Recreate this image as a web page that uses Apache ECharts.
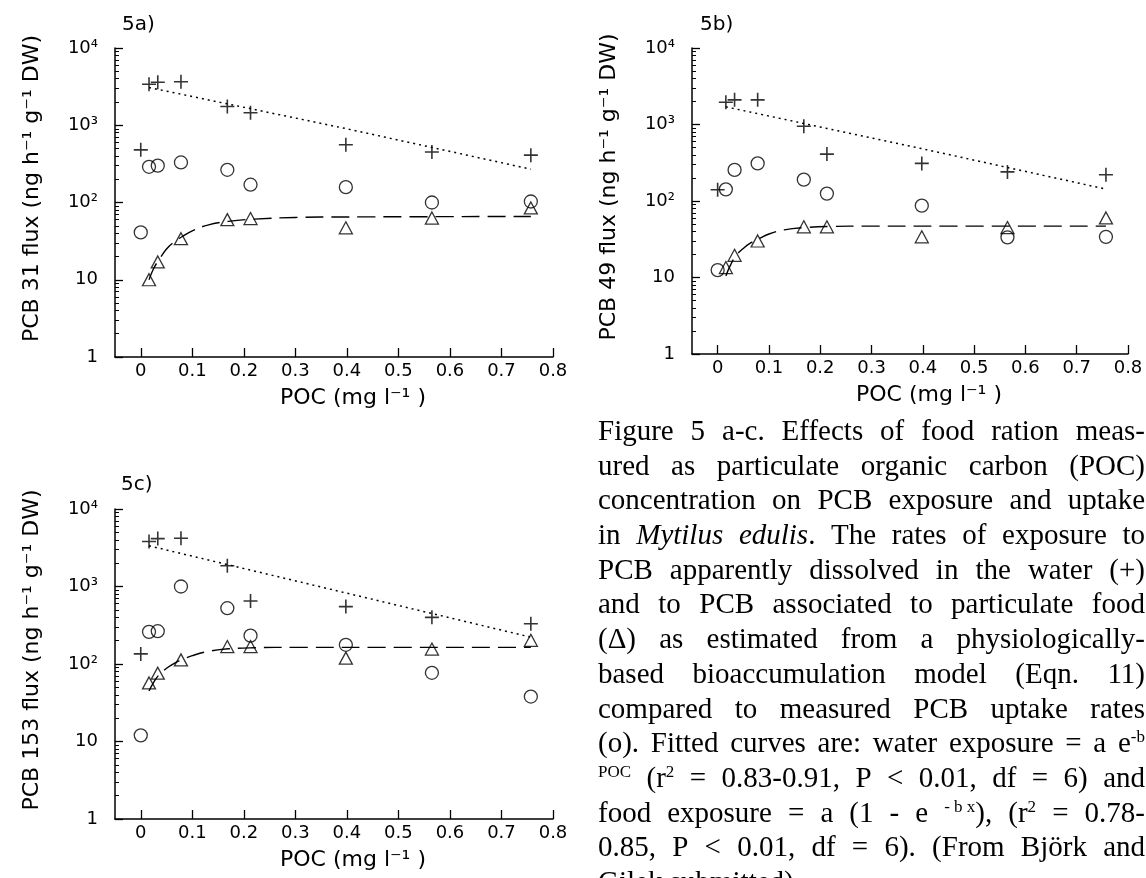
<!DOCTYPE html>
<html>
<head>
<meta charset="utf-8">
<script src="https://cdn.jsdelivr.net/npm/echarts@6/dist/echarts.min.js"></script>
<style>
html,body{margin:0;padding:0;background:#fff;}
#chart{width:1146px;height:878px;}
</style>
</head>
<body>
<div id="chart"></div>
<script>
// ---------------- data ----------------
const poc = [0, 0.016, 0.033, 0.078, 0.168, 0.213, 0.398, 0.565, 0.757];

const panelLabels = ['5a)', '5b)', '5c)'];
const yNames = ['PCB 31 flux (ng h\u207B\u00B9 g\u207B\u00B9 DW)',
                'PCB 49 flux (ng h\u207B\u00B9 g\u207B\u00B9 DW)',
                'PCB 153 flux (ng h\u207B\u00B9 g\u207B\u00B9 DW)'];
const xName = 'POC (mg l\u207B\u00B9 )';

// water exposure (+)
const waterA = [480, 3400, 3600, 3650, 1750, 1450, 560, 450, 410];
const waterB = [140, 1950, 2100, 2100, 950, 410, 310, 240, 220];
const waterC = [135, 3800, 4150, 4200, 1850, 650, 550, 400, 330];
// measured uptake (o)
const uptakeA = [41, 290, 300, 330, 265, 170, 158, 100, 103];
const uptakeB = [12.5, 142, 255, 310, 190, 125, 87, 33.5, 34];
const uptakeC = [12, 260, 265, 1000, 525, 232, 177, 77, 38];
// food exposure (triangle)
const foodA = [null, 10, 17, 34, 60, 62, 47, 63, 85];
const foodB = [null, 13.5, 19.5, 30, 46, 46, 34, 45, 60];
const foodC = [null, 57, 76, 113, 168, 168, 119, 156, 202];

// fitted water-exposure curves (dotted)
const waterFitX = [0.016, 0.4, 0.757];
const waterFitA = [3080, 900, 270];
const waterFitB = [1700, 480, 143];
const waterFitC = [3350, 820, 222];

// fitted food-exposure curves (dashed)
const foodFitX = [0.016, 0.025, 0.035, 0.05, 0.065, 0.08, 0.1, 0.13, 0.17, 0.22, 0.3, 0.4, 0.757];
const foodFitA = [10, 14, 18, 25, 31, 36, 43, 51, 57, 61, 64, 65, 66];
const foodFitB = [10.5, 14.5, 19, 24, 28.5, 32, 37, 42, 45, 46.5, 47, 47, 47];
const foodFitC = [45, 58, 72, 88, 102, 114, 128, 145, 157, 162, 164, 164, 164];

// axis ticks
const xTicks = [0, 0.1, 0.2, 0.3, 0.4, 0.5, 0.6, 0.7, 0.8];
const yMajor = [1, 10, 100, 1000, 10000];
const yMajorLabels = ['1', '10', '10\u00B2', '10\u00B3', '10\u2074'];
const yMinor = [2,3,4,5,6,7,8,9,20,30,40,50,60,70,80,90,200,300,400,500,600,700,800,900,2000,3000,4000,5000,6000,7000,8000,9000];

// caption ( *italic*, ^superscript^, ~ = space inside a word )
const captionLines = [
  'Figure 5 a-c. Effects of food ration meas-',
  'ured as particulate organic carbon (POC)',
  'concentration on PCB exposure and uptake',
  'in *Mytilus* *edulis*. The rates of exposure to',
  'PCB apparently dissolved in the water (+)',
  'and to PCB associated to particulate food',
  '(\u0394) as estimated from a physiologically-',
  'based bioaccumulation model (Eqn. 11)',
  'compared to measured PCB uptake rates',
  '(o). Fitted curves are: water exposure = a e^-b^',
  '^POC^ (r^2^ = 0.83-0.91, P < 0.01, df = 6) and',
  'food exposure = a (1 - e ^-~b~x^), (r^2^ = 0.78-',
  '0.85, P < 0.01, df = 6). (From Bj\u00F6rk and',
  'Gilek submitted).'
];

// ---------------- layout / style ----------------
const grids = [
  {left: 115, top: 48, width: 438, height: 309},
  {left: 692, top: 48, width: 436, height: 306},
  {left: 115, top: 509, width: 438, height: 310}
];
const labelPos = [[122, 24.5], [700, 24.5], [121, 485]];
const SANS = 'DejaVu Sans';
const SERIF = 'Liberation Serif';

const waters = [waterA, waterB, waterC];
const uptakes = [uptakeA, uptakeB, uptakeC];
const foods = [foodA, foodB, foodC];
const waterFits = [waterFitA, waterFitB, waterFitC];
const foodFits = [foodFitA, foodFitB, foodFitC];

function zip(xs, ys) {
  const out = [];
  xs.forEach((x, i) => { if (ys[i] != null) out.push([x, ys[i]]); });
  return out;
}

const option = {
  animation: false,
  backgroundColor: '#fff',
  grid: grids.map(g => Object.assign({outerBoundsMode: 'none', containLabel: false}, g)),
  xAxis: [],
  yAxis: [],
  series: [],
  graphic: []
};

for (let i = 0; i < 3; i++) {
  option.xAxis.push({
    type: 'value', gridIndex: i, min: -0.05, max: 0.8,
    axisLine: {onZero: false, lineStyle: {color: '#000', width: 1.5}},
    axisTick: {inside: true, length: 9, customValues: xTicks, lineStyle: {color: '#000', width: 1.3}},
    axisLabel: {customValues: xTicks, margin: 5, color: '#000', fontSize: 18, fontFamily: SANS,
      formatter: v => (Math.abs(v) < 1e-9 ? '0' : v.toFixed(1))},
    splitLine: {show: false},
    name: xName, nameLocation: 'middle', nameGap: 30,
    nameTextStyle: {color: '#000', fontSize: 22, fontFamily: SANS, padding: [0, 0, 0, 38]}
  });
  option.yAxis.push({
    type: 'log', logBase: 10, gridIndex: i, min: 1, max: 10000, position: 'left',
    axisLine: {show: true, onZero: false, lineStyle: {color: '#000', width: 1.5}},
    axisTick: {inside: true, length: 8, customValues: yMajor, lineStyle: {color: '#000', width: 1.3}},
    axisLabel: {customValues: yMajor, margin: 17, color: '#000', fontSize: 18, fontFamily: SANS,
      formatter: v => yMajorLabels[Math.round(Math.log10(v))]},
    splitLine: {show: false},
    name: yNames[i], nameLocation: 'middle', nameGap: 72,
    nameTextStyle: {color: '#000', fontSize: 22, fontFamily: SANS, padding: [0, 0, 0, 28]}
  });
  option.yAxis.push({
    type: 'log', logBase: 10, gridIndex: i, min: 1, max: 10000, position: 'left', offset: 0,
    axisLine: {show: false, onZero: false},
    axisTick: {inside: true, length: 4, customValues: yMinor, lineStyle: {color: '#000', width: 1}},
    axisLabel: {show: false},
    splitLine: {show: false}
  });

  const yi = 2 * i;
  option.series.push({
    type: 'line', xAxisIndex: i, yAxisIndex: yi, data: zip(waterFitX, waterFits[i]),
    symbol: 'none', silent: true, z: 2,
    lineStyle: {color: '#000', width: 1.5, type: [2, 4]}
  });
  option.series.push({
    type: 'line', xAxisIndex: i, yAxisIndex: yi, data: zip(foodFitX, foodFits[i]),
    symbol: 'none', smooth: 0.4, silent: true, z: 2,
    lineStyle: {color: '#000', width: 1.4, type: [18, 8]}
  });
  option.series.push({
    type: 'scatter', xAxisIndex: i, yAxisIndex: yi, data: zip(poc, waters[i]),
    symbol: 'path://M0,6L12,6M6,0L6,12', symbolSize: 14, silent: true, z: 3,
    itemStyle: {color: 'transparent', borderColor: '#000', borderWidth: 1.6}
  });
  option.series.push({
    type: 'scatter', xAxisIndex: i, yAxisIndex: yi, data: zip(poc, uptakes[i]),
    symbol: 'circle', symbolSize: 13, silent: true, z: 3,
    itemStyle: {color: 'transparent', borderColor: '#000', borderWidth: 1.3}
  });
  option.series.push({
    type: 'scatter', xAxisIndex: i, yAxisIndex: yi, data: zip(poc, foods[i]),
    symbol: 'triangle', symbolSize: [13, 12], silent: true, z: 3,
    itemStyle: {color: 'transparent', borderColor: '#000', borderWidth: 1.3}
  });

  option.graphic.push({
    type: 'text', x: labelPos[i][0], y: labelPos[i][1], silent: true,
    style: {text: panelLabels[i], fontSize: 20, fontFamily: SANS, fill: '#000', align: 'left', verticalAlign: 'middle'}
  });
}

// ---------------- caption (justified) ----------------
const FS = 29, SUP = 17;
const measCtx = document.createElement('canvas').getContext('2d');
function fontOf(m) {
  if (m === 'i') return 'italic ' + FS + 'px "' + SERIF + '"';
  if (m === 's') return SUP + 'px "' + SERIF + '"';
  return FS + 'px "' + SERIF + '"';
}
function textWidth(t, m) { measCtx.font = fontOf(m); return measCtx.measureText(t).width; }
function parseWord(w) {
  const runs = []; let mode = 'n'; let buf = '';
  for (const ch of w) {
    if (ch === '*') { if (buf) { runs.push({t: buf, m: mode}); buf = ''; } mode = (mode === 'i') ? 'n' : 'i'; continue; }
    if (ch === '^') { if (buf) { runs.push({t: buf, m: mode}); buf = ''; } mode = (mode === 's') ? 'n' : 's'; continue; }
    buf += (ch === '~') ? ' ' : ch;
  }
  if (buf) runs.push({t: buf, m: mode});
  return runs;
}
const capX0 = 598, capX1 = 1145, capBase0 = 441, capLH = 34.7;
captionLines.forEach((line, k) => {
  const words = line.split(' ').map(parseWord);
  const widths = words.map(rs => rs.reduce((s, r) => s + textWidth(r.t, r.m), 0));
  const total = widths.reduce((a, b) => a + b, 0);
  const justify = k < captionLines.length - 1 && words.length > 1;
  const gap = justify ? (capX1 - capX0 - total) / (words.length - 1) : textWidth(' ', 'n');
  const base = capBase0 + k * capLH;
  let x = capX0;
  words.forEach((rs, wi) => {
    rs.forEach(r => {
      const w = textWidth(r.t, r.m);
      const isSup = r.m === 's';
      option.graphic.push({
        type: 'text', x: x, y: isSup ? base - 0.36 * FS - 0.3 * SUP : base - 0.3 * FS, silent: true,
        style: {text: r.t, fontSize: isSup ? SUP : FS, fontFamily: SERIF,
          fontStyle: r.m === 'i' ? 'italic' : 'normal', fill: '#000', align: 'left', verticalAlign: 'middle'}
      });
      x += w;
    });
    x += gap;
  });
});

const chart = echarts.init(document.getElementById('chart'), null, {renderer: 'canvas'});
chart.setOption(option);
</script>
</body>
</html>
